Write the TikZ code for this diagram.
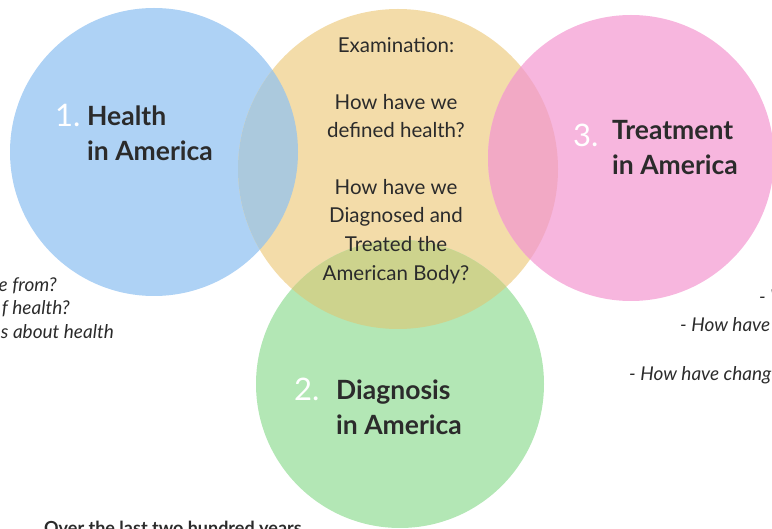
\documentclass[tikz,border=0pt]{standalone}
\usepackage{fontspec}
\setmainfont{Lato}

\definecolor{blueC}{HTML}{AED2F5}
\definecolor{examC}{HTML}{F3DCA9}
\definecolor{pinkC}{HTML}{F7B6DE}
\definecolor{greenC}{HTML}{B3E7B5}
\definecolor{blueExam}{HTML}{ABC9DD}
\definecolor{pinkExam}{HTML}{F2A9C5}
\definecolor{greenExam}{HTML}{CDD38D}
\definecolor{ink}{HTML}{2B2B2B}

\tikzset{
  title/.style={font=\fontsize{26.5}{30}\selectfont\bfseries, text=ink, anchor=base west, inner sep=0pt},
  num/.style={font=\fontsize{31}{34}\selectfont, text=white, anchor=base west, inner sep=0pt},
  ask/.style={font=\fontsize{20.5}{24}\selectfont, text=ink, anchor=base, inner sep=0pt},
  side/.style={font=\fontsize{19}{22}\selectfont\itshape, text=ink, inner sep=0pt},
  foot/.style={font=\fontsize{18}{20}\selectfont\bfseries, text=ink, anchor=base west, inner sep=0pt},
}

\begin{document}
\begin{tikzpicture}[x=1pt,y=-1pt]

\useasboundingbox (0,0) rectangle (772,529);
\clip (0,0) rectangle (772,529);

\coordinate (healthC) at (154,152);
\coordinate (examC) at (398,169);
\coordinate (treatC) at (631,158);
\coordinate (diagC) at (400,384);

\fill[blueC] (healthC) circle (144pt);
\fill[examC] (examC) circle (160pt);
\fill[pinkC] (treatC) circle (143pt);
\fill[greenC] (diagC) circle (144pt);

% overlaps
\begin{scope}
\clip (examC) circle (160pt);
\fill[blueExam] (healthC) circle (144pt);
\fill[pinkExam] (treatC) circle (143pt);
\fill[greenExam] (diagC) circle (144pt);
\end{scope}

% circle titles
\node[num] (n1) at (55,127) {1.};
\node[title] (h1) at (87,126) {Health};
\node[title] (h2) at (87,161) {in America};

\node[num] (n3) at (573,147) {3.};
\node[title] (t1) at (612,140) {Treatment};
\node[title] (t2) at (612,175) {in America};

\node[num] (n2) at (294,401) {2.};
\node[title] (d1) at (336,400) {Diagnosis};
\node[title] (d2) at (336,435) {in America};

% middle questions
\node[ask] (q1) at (396,53) {Examination:};
\node[ask] (q2) at (396,110) {How have we};
\node[ask] (q3) at (396,138) {defined health?};
\node[ask] (q4) at (396,195) {How have we};
\node[ask] (q5) at (396,223) {Diagnosed and};
\node[ask] (q6) at (396,252) {Treated the};
\node[ask] (q7) at (396,281) {American Body?};

% cut off notes
\node[side, anchor=base east] (l1) at (57,292) {e from?};
\node[side, anchor=base east] (l2) at (70,315) {f health?};
\node[side, anchor=base east] (l3) at (114,339) {s about health};

\node[side, anchor=base west] (r1) at (759,304) {- W};
\node[side, anchor=base west] (r2) at (680,332) {- How have};
\node[side, anchor=base west] (r3) at (629,381) {- How have chang};

\node[foot] (f1) at (44,534) {Over the last two hundred years};

\end{tikzpicture}
\end{document}
